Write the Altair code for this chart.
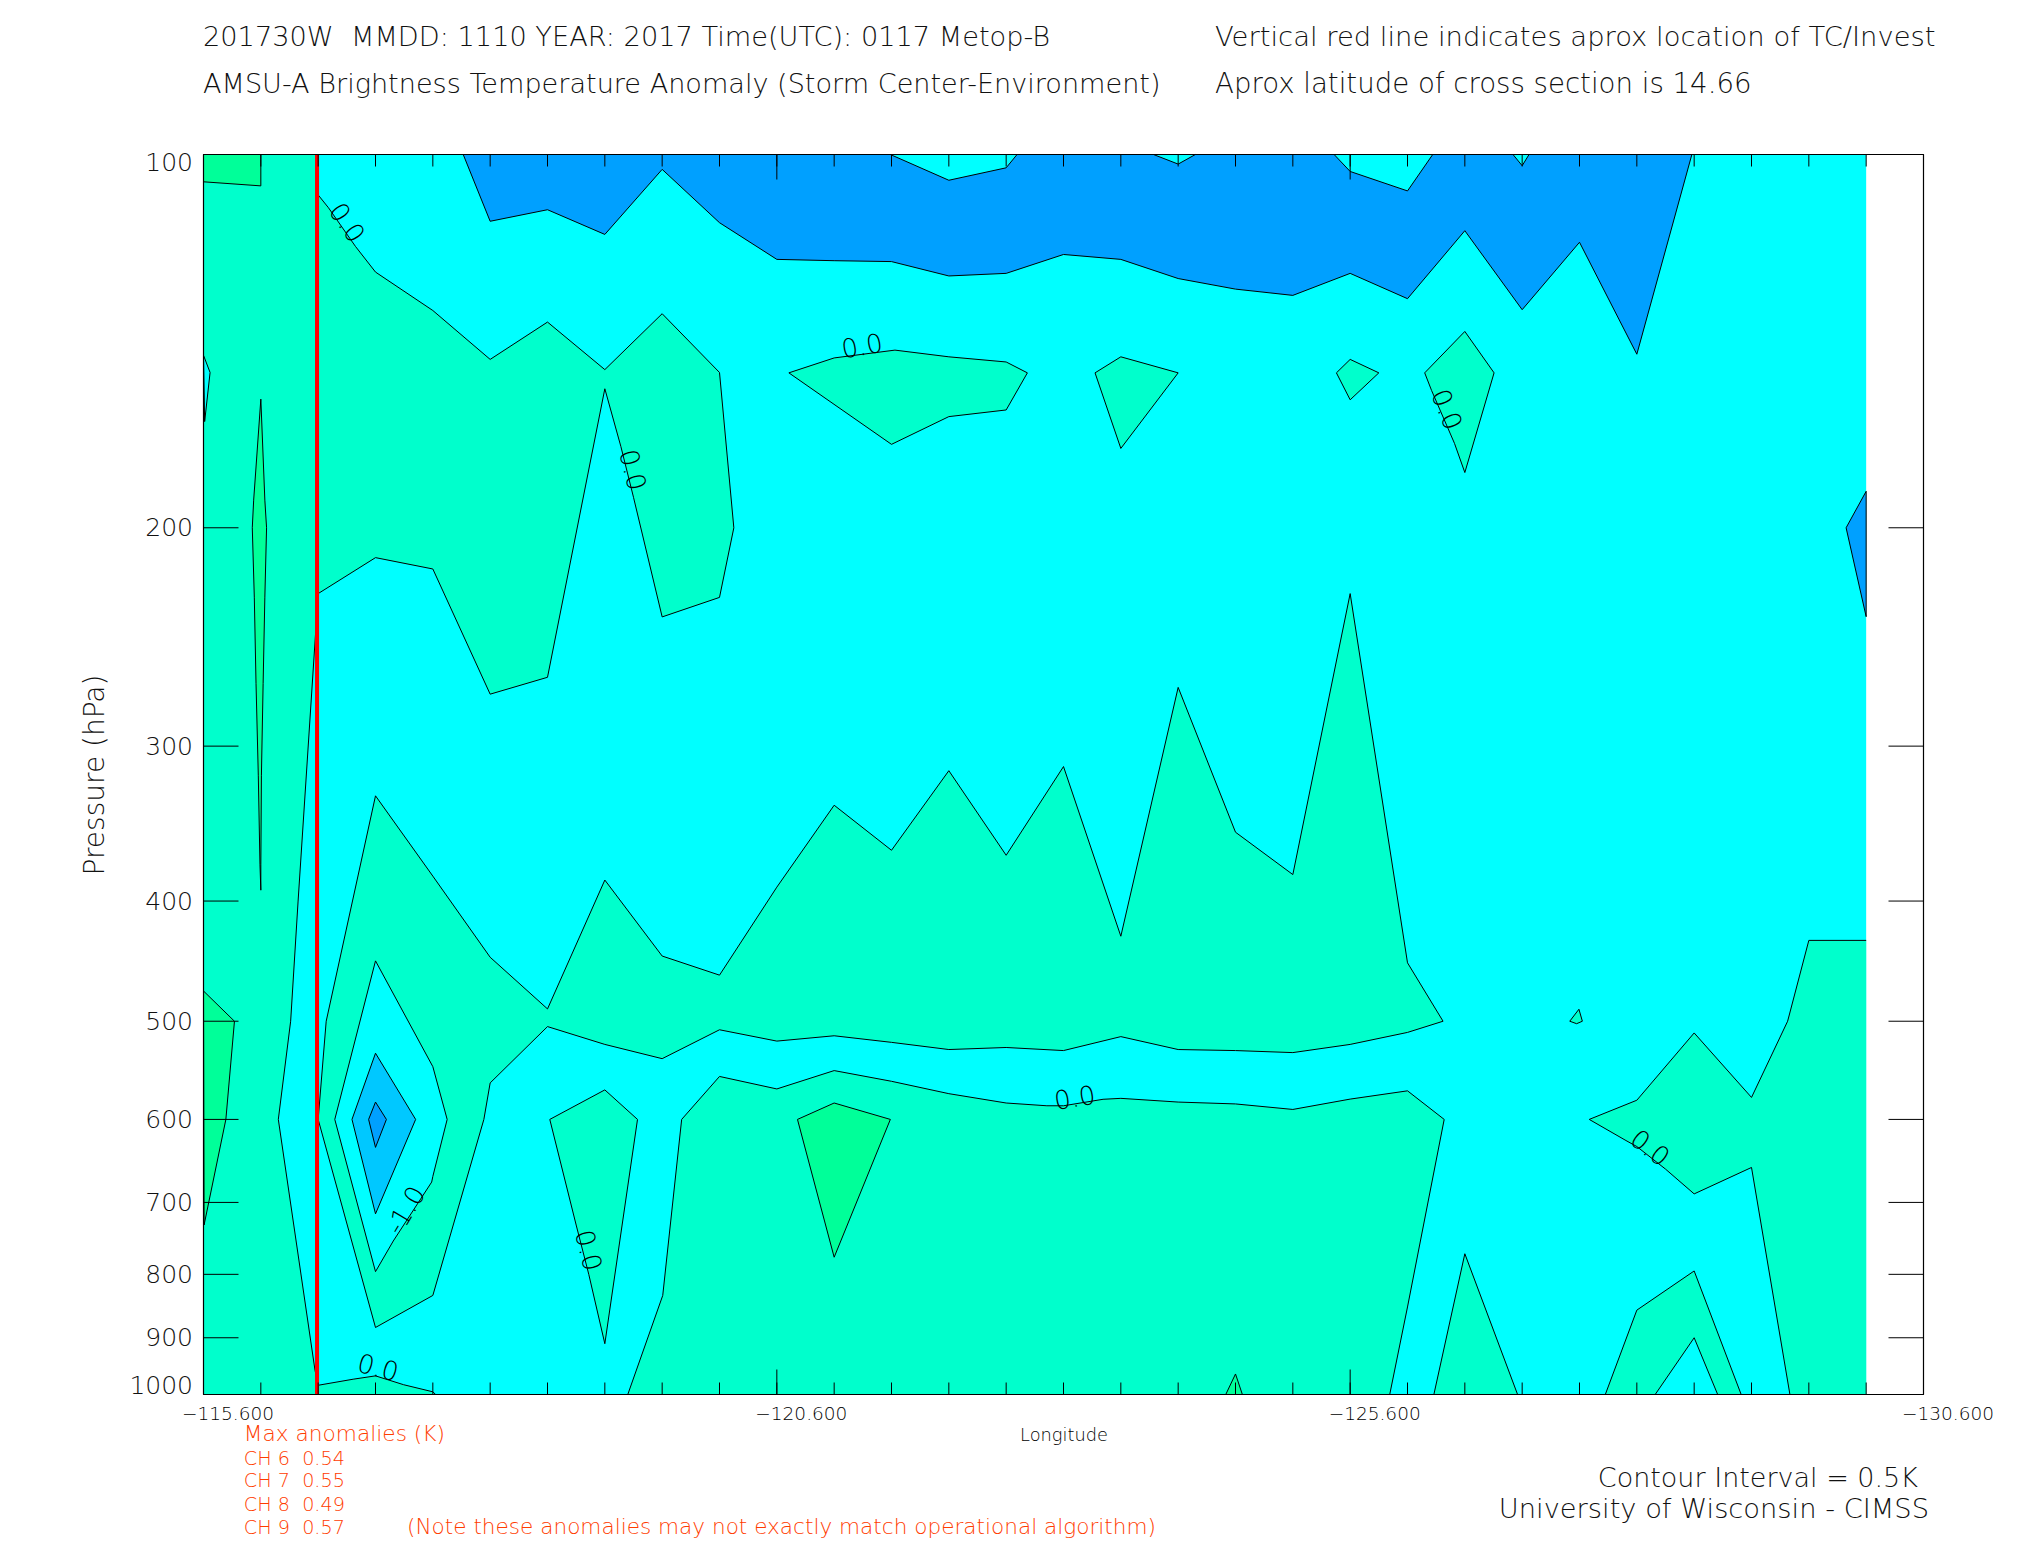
import altair as alt
import pandas as pd

FONT = "DejaVu Sans"
WEIGHT = 200
W, H = 1720, 1240
LON0, DLON = -115.6, 0.5

CYAN, TEAL, GREEN = "#00ffff", "#00ffcc", "#00ff99"
BLUE1, BLUE2 = "#00c8ff", "#00a0ff"

# Contour polygons: (grid index along longitude, pressure hPa[, 1 = contour line broken after this vertex])
back = [(0, 100), (29, 100), (29, 1000), (0, 1000)]
poly_a = [(0, 100), (2, 100), (2, 107.8), (2.18, 110.4, 1), (2.65, 118.6), (3, 124.4), (4, 133.6), (5, 146.3),
          (6, 136.5), (7, 149.1), (8, 134.4), (9, 149.9), (9.25, 200), (9, 227.6), (8, 236), (7.5, 189, 1),
          (7.28, 172), (7, 154.5), (6, 264), (5, 272.4), (4, 215.9), (3, 211.4), (2, 226), (1.65, 400),
          (1.52, 500), (1.305, 600), (1.945, 956), (2, 983), (2.61, 972, 1), (3, 966, 1), (3.49, 982), (4, 995),
          (4.05, 1000), (0, 1000)]
poly_b = [(2, 600), (2.14, 500), (3, 329), (4, 381.9), (5, 444), (6, 488.7), (7, 384.7), (8, 443), (9, 459),
          (10, 389.8), (11, 334.8), (12, 364), (13, 314), (14, 367.4), (15, 311.6), (16, 427), (17, 269),
          (18, 352), (19, 380.8), (20, 226), (21, 448.6), (21.62, 500), (21, 510.5), (20, 522), (19, 530),
          (18, 528), (17, 527), (16, 514.5), (15, 528), (14, 525), (13, 527), (12, 520), (11, 513.7), (10, 518.8),
          (9, 508), (8, 536), (7, 522), (6, 505), (5, 560.7), (4.89, 600), (4, 832), (3, 883)]
poly_c = [(3, 447), (4, 544), (4.25, 600), (4, 667), (3.98, 674, 1), (3.31, 752), (3, 796), (2.29, 600)]
poly_c2 = [(3, 530.6), (3.7, 600), (3, 715), (2.59, 600)]
poly_c3 = [(3, 581), (3.19, 600), (3, 632), (2.88, 600)]
poly_d = [(7.4, 1000), (8.01, 832), (8.34, 600), (9, 554), (10, 567), (11, 548), (12, 559), (13, 572), (14, 582),
          (14.71, 585, 1), (15, 585, 1), (15.69, 578), (16, 577), (17, 581), (18, 583), (19, 589), (20, 577.8),
          (21, 569), (21.64, 600), (21, 850), (20.69, 1000)]
poly_e = [(6.04, 600), (7, 568), (7.57, 600), (7, 910), (6.72, 800, 1), (6.5, 730)]
poly_f = [(10.36, 600), (11, 582), (11.98, 600), (11, 775)]
poly_g = [(0, 100), (1, 100), (1, 106), (0, 105.2)]
poly_h = [(1, 157.5), (0.875, 190), (0.851, 200), (0.886, 227.5), (0.916, 267), (0.956, 317), (0.985, 374),
          (1, 392), (1, 374), (1.01, 317), (1.04, 267), (1.07, 227.5), (1.1, 200), (1.07, 190)]
poly_i = [(0, 472.7), (0.54, 500), (0.39, 600), (0.01, 730)]
poly_j = [(10.21, 150), (11, 145.9, 1), (12.06, 143.8), (13, 145.6), (14, 147), (14.37, 150), (14, 160.7),
          (13, 162.7), (12, 171.3)]
poly_k = [(15.55, 150), (16, 145.6), (17, 150), (16, 172.6)]
poly_l = [(19.76, 150), (20, 146.3), (20.5, 150), (20, 157.7)]
poly_m = [(21.3, 150), (22, 138.9), (22.51, 150), (22, 180.5), (21.82, 171, 1), (21.42, 155)]
poly_n = [(29, 430.3), (28, 430.3), (27.63, 500), (27, 576), (26, 511), (25, 579), (24.17, 600), (24.81, 624, 1),
          (25, 631, 1), (25.5, 658), (26, 689), (27, 656), (27.67, 1000), (29, 1000)]
poly_o = [(21.46, 1000), (22, 770), (22.92, 1000)]
poly_p = [(24.45, 1000), (25, 855), (26, 795), (26.82, 1000)]
poly_p_hole = [(25.32, 1000), (26, 900), (26.41, 1000)]
poly_q = [(4.53, 100), (5, 113.2), (6, 110.8), (7, 116), (8, 102.8), (9, 113.5), (10, 121.5), (11, 121.8), (12, 122),
          (13, 125.3), (14, 124.7), (15, 120.4), (16, 121.5), (17, 125.9), (18, 128.4), (19, 129.9), (20, 124.7),
          (21, 130.7), (22, 115.2), (23, 133.4), (24, 117.7), (25, 144.9), (25.96, 100)]
hole_1 = [(11.98, 100), (13, 104.9), (14, 102.5), (14.19, 100)]
hole_2 = [(16.57, 100), (17, 101.8), (17.3, 100)]
hole_3 = [(19.72, 100), (20, 103.2), (21, 107), (21.44, 100)]
hole_4 = [(22.84, 100), (23, 102.1), (23.12, 100)]
poly_r = [(29, 186.9), (28.65, 200), (29, 235.9)]
sliver = [(0, 145.2), (0.115, 149.9), (0.02, 164.2)]
speck = [(23.99, 489), (23.83, 500), (23.95, 502.3), (24.05, 500)]
peak = [(17.83, 1000), (18, 962.6), (18.12, 1000)]

# (vertices, fill, stroked, closed) in drawing order
POLYGONS = [
    (back, CYAN, False, True), (poly_a, TEAL, True, True), (poly_b, TEAL, True, True), (poly_d, TEAL, True, True),
    (poly_e, TEAL, True, True), (poly_j, TEAL, True, True), (poly_k, TEAL, True, True), (poly_l, TEAL, True, True),
    (poly_m, TEAL, True, True), (poly_n, TEAL, True, False), (poly_o, TEAL, True, True), (poly_p, TEAL, True, True),
    (speck, TEAL, True, True), (poly_c, CYAN, True, True), (poly_p_hole, CYAN, True, True), (sliver, CYAN, True, True),
    (poly_q, BLUE2, True, True), (hole_1, CYAN, True, True), (hole_2, CYAN, True, True), (hole_3, CYAN, True, True),
    (hole_4, CYAN, True, True), (poly_r, BLUE2, True, True), (poly_c2, BLUE1, True, True), (poly_c3, BLUE2, True, True),
    (poly_g, GREEN, True, True), (poly_h, GREEN, True, True), (poly_i, GREEN, True, True), (poly_f, GREEN, True, True),
    (peak, GREEN, True, True),
]

label_grid = [2.49, 7.47, 11.49, 21.67, 3.54, 6.7, 3.04, 15.2, 25.22]
label_press = [113.6, 179.7, 143, 160.7, 710.8, 765.5, 953, 577.5, 633.5]
label_text = ["0.0", "0.0", "0.0", "0.0", "-1.0", "0.0", "0.0", "0.0", "0.0"]
label_angle = [55, 76, 350, 68, 301, 76, 15, 351, 38]

press_ticks = [100, 200, 300, 400, 500, 600, 700, 800, 900, 1000]
lon_labels = [-115.6, -120.6, -125.6, -130.6]
red_lon = [-116.59]
tick_grid = list(range(0, 31))


def lon(k):
    return LON0 - DLON * k


fill_rows, line_rows = [], []
seg = 0
for pid, (verts, col, stroked, closed) in enumerate(POLYGONS):
    for v, pt in enumerate(verts):
        fill_rows.append(dict(id=pid, v=v, lon=lon(pt[0]), p=pt[1], color=col))
    if not stroked:
        continue
    path = list(verts) + ([verts[0]] if closed else [])
    seg += 1
    for v, pt in enumerate(path):
        line_rows.append(dict(id=seg, v=v, lon=lon(pt[0]), p=pt[1]))
        if len(pt) > 2:
            seg += 1
            line_rows.append(dict(id=seg, v=v, lon=lon(pt[0]), p=pt[1]))

xs = alt.Scale(domain=[-115.6, -130.6], nice=False, zero=False)
ys = alt.Scale(type="log", domain=[100, 1000], reverse=True, nice=False)
x_axis = alt.Axis(values=lon_labels, format=".3f", ticks=False, domain=False, grid=False,
                  labelFont=FONT, labelFontWeight=WEIGHT, labelFontSize=18.5, labelColor="#000", labelOffset=24,
                  labelPadding=10, labelFlush=False, labelOverlap=False,
                  titleFont=FONT, titleFontSize=17.8, titleFontWeight=WEIGHT, titleColor="#000",
                  titlePadding=3)
y_axis = alt.Axis(values=press_ticks, format="d", ticks=False, domain=False, grid=False,
                  labelFont=FONT, labelFontWeight=WEIGHT, labelFontSize=25, labelColor="#111", labelPadding=11,
                  labelFlush=True, labelFlushOffset=4, labelOverlap=False,
                  titleFont=FONT, titleFontSize=28, titleFontWeight=WEIGHT, titleColor="#111",
                  titleX=-94)
X = alt.X("lon:Q", scale=xs, axis=x_axis, title="Longitude")
Y = alt.Y("p:Q", scale=ys, axis=y_axis, title="Pressure (hPa)")

fills = alt.Chart(pd.DataFrame(fill_rows)).mark_line(interpolate="linear-closed", strokeWidth=0).encode(
    x=X, y=Y, order="v:Q", detail="id:N", fill=alt.Fill("color:N", scale=None))

lines = alt.Chart(pd.DataFrame(line_rows)).mark_line(color="black", strokeWidth=1).encode(
    x=X, y=Y, order="v:Q", detail="id:N")

labels = alt.Chart(pd.DataFrame(dict(lon=[lon(k) for k in label_grid], p=label_press, t=label_text,
                                     a=label_angle))).mark_text(
    font=FONT, fontWeight=WEIGHT, fontSize=26, color="black").encode(
    x=X, y=Y, text="t:N", angle=alt.Angle("a:Q", scale=None))

red = alt.Chart(pd.DataFrame(dict(lon=red_lon))).mark_rule(color="#ff0000", strokeWidth=4).encode(x=X)

tick_df = pd.DataFrame(dict(lon=[lon(k) for k in tick_grid],
                            n=[25 if (k % 10) == 0 else 12 for k in tick_grid]))
rule = dict(color="black", strokeWidth=1)
bot = alt.Chart(tick_df).mark_rule(**rule).encode(x=X, y=alt.value(H), y2=alt.value(H - 12))
bot_long = alt.Chart(tick_df[tick_df.n == 25]).mark_rule(**rule).encode(x=X, y=alt.value(H), y2=alt.value(H - 25))
top = alt.Chart(tick_df).mark_rule(**rule).encode(x=X, y=alt.value(0), y2=alt.value(12))
top_long = alt.Chart(tick_df[tick_df.n == 25]).mark_rule(**rule).encode(x=X, y=alt.value(0), y2=alt.value(25))
p_df = pd.DataFrame(dict(p=press_ticks))
left = alt.Chart(p_df).mark_rule(**rule).encode(y=Y, x=alt.value(0), x2=alt.value(35))
right = alt.Chart(p_df).mark_rule(**rule).encode(y=Y, x=alt.value(W - 35), x2=alt.value(W))


def frame(**enc):
    return alt.Chart(pd.DataFrame(dict(a=[0]))).mark_rule(color="black", strokeWidth=1.2).encode(**enc)


frames = [
    frame(x=alt.value(0), x2=alt.value(W), y=alt.value(0)),
    frame(x=alt.value(0), x2=alt.value(W), y=alt.value(H)),
    frame(x=alt.value(0), y=alt.value(0), y2=alt.value(H)),
    frame(x=alt.value(W), y=alt.value(0), y2=alt.value(H)),
]

OX, OY = 203.5, 154.5


def txt(s, x, y, size, color="#111", align="left"):
    return alt.Chart(pd.DataFrame(dict(t=[s]))).mark_text(
        font=FONT, fontWeight=WEIGHT, fontSize=size, color=color, align=align, baseline="alphabetic").encode(
        text="t:N", x=alt.value(x - OX), y=alt.value(y - OY))


ORANGE = "#ff3c00"
NB = "\u00a0"
texts = [
    txt(f"201730W {NB}MMDD: 1110 YEAR: 2017 Time(UTC): 0117 Metop-B", 203, 46, 27.2),
    txt("AMSU-A Brightness Temperature Anomaly (Storm Center-Environment)", 203, 92.7, 27.1),
    txt("Vertical red line indicates aprox location of TC/Invest", 1215, 46, 27.4),
    txt("Aprox latitude of cross section is 14.66", 1215, 92.7, 27.6),
    txt("Max anomalies (K)", 243.8, 1440.7, 21.7, ORANGE),
    txt(f"CH 6 {NB}0.54", 243.8, 1465, 19.2, ORANGE),
    txt(f"CH 7 {NB}0.55", 243.8, 1487.3, 19.2, ORANGE),
    txt(f"CH 8 {NB}0.49", 243.8, 1510.7, 19.2, ORANGE),
    txt(f"CH 9 {NB}0.57", 243.8, 1534, 19.2, ORANGE),
    txt("(Note these anomalies may not exactly match operational algorithm)", 407, 1534, 21.6, ORANGE),
    txt("Contour Interval = 0.5K", 1918, 1487.3, 27, align="right"),
    txt("University of Wisconsin - CIMSS", 1929, 1518, 27.3, align="right"),
]

chart = alt.layer(fills, lines, labels, red, bot, bot_long, top, top_long, left, right, *frames, *texts).properties(
    width=W, height=H,
    autosize=alt.AutoSizeParams(type="none"),
    padding={"left": 195.5, "top": 146.5, "right": 90, "bottom": 158},
    background="white",
).configure_view(stroke=None)

chart.save("out.html", embed_options={"renderer": "svg", "actions": False})
